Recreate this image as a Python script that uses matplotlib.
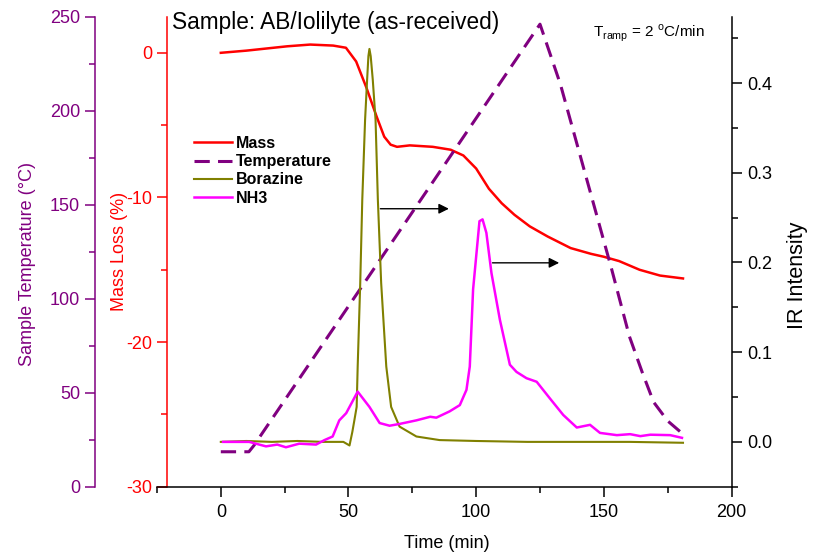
import matplotlib
matplotlib.use("Agg")
import matplotlib.pyplot as plt

plt.rcParams['font.family'] = ['Liberation Sans', 'DejaVu Sans']
plt.rcParams['axes.unicode_minus'] = False

# mass loss (%) vs time (min)
mass_t = [0, 10, 18, 26, 35, 44, 49, 53, 57, 61, 64, 66.5, 69, 74, 83, 90, 95,
          100, 105, 110, 115, 121, 128, 137, 145, 150, 156, 164, 172, 181]
mass_v = [0, 0.15, 0.3, 0.45, 0.57, 0.5, 0.35, -0.6, -2.4, -4.4, -5.8, -6.35,
          -6.5, -6.4, -6.5, -6.7, -7.1, -8.0, -9.4, -10.4, -11.2, -12.0, -12.7,
          -13.5, -13.9, -14.1, -14.4, -15.0, -15.4, -15.6]

# sample temperature (C)
temp_t = [0, 11, 13, 125, 133, 153, 160, 165, 169.5, 175, 181]
temp_v = [18.6, 18.6, 22, 246, 214, 116, 80, 61, 45, 35, 28]

# IR intensity, borazine
bor_t = [0, 10, 20, 30, 40, 48, 50.4, 51.5, 52.3, 53.2, 53.6, 54.6, 55.4, 56.5,
         57.3, 57.8, 58.2, 58.7, 59.5, 60.6, 61.5, 62.8, 64.8, 66.7, 70, 76.6,
         85.7, 100, 120, 140, 160, 181]
bor_v = [0.0, 0.001, 0.0, 0.001, 0.0, 0.0, -0.004, 0.011, 0.024, 0.039, 0.084,
         0.177, 0.270, 0.359, 0.404, 0.43, 0.438, 0.43, 0.404, 0.359, 0.270,
         0.177, 0.084, 0.039, 0.017, 0.006, 0.002, 0.001, 0.0, 0.0, 0.0, -0.001]

# IR intensity, NH3
nh3_t = [0.9, 11.1, 17.7, 22.1, 25.5, 30.7, 37.3, 40.6, 43.8, 46.4, 49.1, 53.6,
         58.2, 62.2, 66.1, 70.0, 76.6, 82.0, 84.4, 89.6, 93.6, 96.2, 97.5, 98.8,
         101.3, 102.5, 104.0, 106.0, 109.3, 113.2, 115.8, 119.7, 123.7, 129.0,
         134.1, 139.4, 144.6, 148.5, 155.1, 160.3, 164.3, 168.2, 176.0, 180.6]
nh3_v = [0.0, 0.0, -0.005, -0.003, -0.006, -0.002, -0.003, 0.002, 0.006, 0.024,
         0.032, 0.056, 0.039, 0.021, 0.018, 0.020, 0.024, 0.028, 0.027, 0.034,
         0.041, 0.058, 0.084, 0.170, 0.246, 0.248, 0.233, 0.188, 0.136, 0.086,
         0.078, 0.071, 0.067, 0.048, 0.030, 0.016, 0.019, 0.010, 0.0075, 0.0086,
         0.0064, 0.008, 0.0075, 0.0045]

purple = '#800080'
red = '#ff0000'
olive = '#808000'
magenta = '#ff00ff'

fig = plt.figure(figsize=(8.21, 5.55), dpi=100)
ax = fig.add_axes([0.1912, 0.123, 0.6998, 0.847])
axT = ax.twinx()
axI = ax.twinx()

ax.set_xlim(-25, 200)
ax.set_ylim(-30, 2.5)
axT.set_ylim(0, 250)
axI.set_ylim(-0.05, 0.474)

l_mass, = ax.plot(mass_t, mass_v, color=red, lw=1.8, label='Mass')
l_temp, = axT.plot(temp_t, temp_v, color=purple, lw=2.2, dashes=(5, 2.7),
                   label='Temperature')
l_bor, = axI.plot(bor_t, bor_v, color=olive, lw=1.5, label='Borazine')
l_nh3, = axI.plot(nh3_t, nh3_v, color=magenta, lw=1.8, label='NH3')

# spines
for a in (ax, axT, axI):
    for s in a.spines.values():
        s.set_visible(False)
        s.set_linewidth(1.1)
ax.spines['bottom'].set_visible(True)
ax.spines['left'].set_visible(True)
ax.spines['left'].set_color(red)
ax.spines['left'].set_position(('data', -21))
axT.spines['left'].set_visible(True)
axT.spines['left'].set_color(purple)
axT.spines['left'].set_position(('outward', 44.6))  # points, ~62 px
axT.yaxis.set_ticks_position('left')
axT.yaxis.set_label_position('left')
axI.spines['right'].set_visible(True)

# ticks
ax.set_xticks([0, 50, 100, 150, 200])
ax.set_xticks([-25, 25, 75, 125, 175], minor=True)
ax.set_yticks([-30, -20, -10, 0])
ax.set_yticks([-25, -15, -5], minor=True)
axT.set_yticks([0, 50, 100, 150, 200, 250])
axT.set_yticks([25, 75, 125, 175, 225], minor=True)
axI.set_yticks([0.0, 0.1, 0.2, 0.3, 0.4])
axI.set_yticks([-0.05, 0.05, 0.15, 0.25, 0.35, 0.45], minor=True)
axI.yaxis.set_major_formatter(matplotlib.ticker.FormatStrFormatter('%.1f'))

ax.tick_params(axis='x', which='major', length=7.2, width=1.1, labelsize=13, pad=5)
ax.tick_params(axis='x', which='minor', length=4.3, width=1.1)
ax.tick_params(axis='y', which='major', length=7.2, width=1.1, labelsize=13,
               colors=red, pad=3.6)
ax.tick_params(axis='y', which='minor', length=4.3, width=1.1, colors=red)
axT.tick_params(axis='y', which='major', length=7.2, width=1.1, labelsize=13,
                colors=purple, pad=3.6)
axT.tick_params(axis='y', which='minor', length=4.3, width=1.1, colors=purple)
axI.tick_params(axis='y', which='major', length=7.2, width=1.1, labelsize=13, pad=4.3)
axI.tick_params(axis='y', which='minor', length=4.3, width=1.1)

ax.set_xlabel('Time (min)', fontsize=13)
ax.xaxis.set_label_coords(0.505, -0.103)
ax.set_ylabel('Mass Loss (%)', fontsize=13, color=red)
ax.yaxis.set_label_coords(-0.050, 0.5)
axT.set_ylabel('Sample Temperature (°C)', fontsize=13, color=purple)
axT.yaxis.set_label_coords(-0.21, 0.474)
axI.set_ylabel('IR Intensity', fontsize=15.5)
axI.yaxis.set_label_coords(1.097, 0.45)

# arrows pointing to the mass axis
ax.annotate('', xy=(90.4, -10.78), xytext=(61.4, -10.78),
            arrowprops=dict(arrowstyle='-|>', color='black', lw=1,
                            mutation_scale=15))
ax.annotate('', xy=(133.6, -14.52), xytext=(105.3, -14.52),
            arrowprops=dict(arrowstyle='-|>', color='black', lw=1,
                            mutation_scale=15))

fig.text(172 / 821, 1 - 22 / 555, 'Sample: AB/Iolilyte (as-received)',
         fontsize=16.3, va='center', ha='left')
fig.text(593 / 821, 1 - 33 / 555,
         r'T$_{\mathregular{ramp}}$ = 2 $^{\mathregular{o}}$C/min',
         fontsize=11, va='center', ha='left')

leg = fig.legend(handles=[l_mass, l_temp, l_bor, l_nh3],
                 loc='upper left', bbox_to_anchor=(186 / 821, 1 - 128 / 555),
                 frameon=False, handlelength=2.4,
                 handletextpad=0.2, labelspacing=0.2, borderpad=0,
                 prop={'weight': 'bold', 'size': 11.5})

fig.savefig('out.png', dpi=100)
